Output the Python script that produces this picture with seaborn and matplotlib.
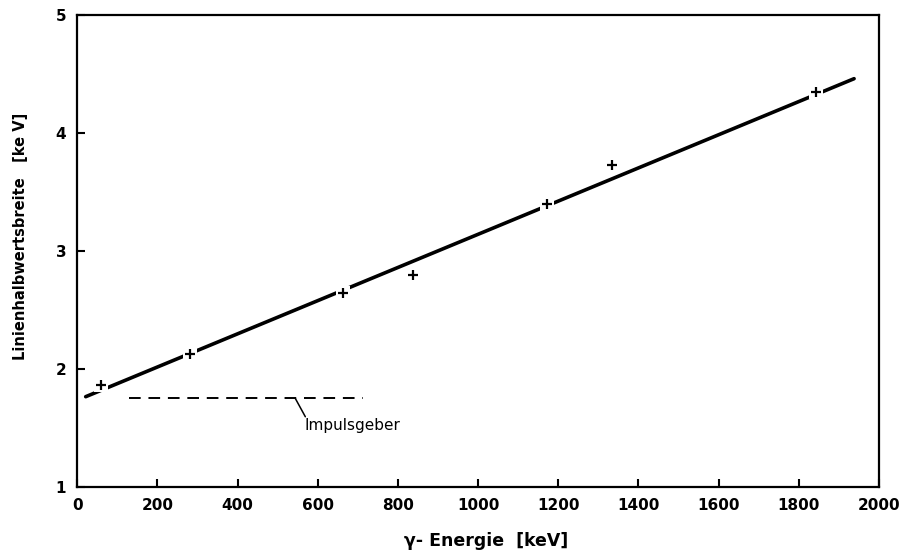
import matplotlib
matplotlib.use("Agg")
import matplotlib.pyplot as plt
import seaborn as sns
import pandas as pd

# measured points
energy_keV = [60, 280, 663, 837, 1172, 1333, 1844]
fwhm_keV = [1.86, 2.13, 2.64, 2.80, 3.40, 3.73, 4.35]

# fitted straight line (end points)
fit_x = [21, 1938]
fit_y = [1.765, 4.46]

# pulser level
pulser_x = [129, 714]
pulser_y = [1.75, 1.75]

# leader line of the "Impulsgeber" label
leader_x = [544, 569]
leader_y = [1.75, 1.595]

x_ticks = [0, 200, 400, 600, 800, 1000, 1200, 1400, 1600, 1800, 2000]
y_ticks = [1, 2, 3, 4, 5]

sns.set_style("ticks", {"axes.labelcolor": "black", "text.color": "black",
                        "xtick.color": "black", "ytick.color": "black",
                        "axes.edgecolor": "black"})
plt.rcParams['font.family'] = ['DejaVu Sans']

fig = plt.figure(figsize=(9.08, 5.54), dpi=100)
ax = fig.add_axes([0.0851, 0.121, 0.8829, 0.852])

pts = pd.DataFrame({"E": energy_keV, "W": fwhm_keV})
fit = pd.DataFrame({"E": fit_x, "W": fit_y})
pul = pd.DataFrame({"E": pulser_x, "W": pulser_y})
lead = pd.DataFrame({"E": leader_x, "W": leader_y})

sns.lineplot(data=fit, x="E", y="W", ax=ax, color="black", linewidth=2.6, zorder=2)
sns.lineplot(data=pul, x="E", y="W", ax=ax, color="black", linewidth=1.4,
             linestyle=(0, (6, 4)), zorder=2)
sns.lineplot(data=lead, x="E", y="W", ax=ax, color="black", linewidth=1.1, zorder=2)
# white patches to create gaps in the line around the points
ax.scatter(pts["E"], pts["W"], marker="s", s=110, color="white", zorder=3, linewidths=0)
sns.scatterplot(data=pts, x="E", y="W", ax=ax, marker="+", s=60, color="black",
                linewidth=1.6, zorder=4)

ax.text(566, 1.525, "Impulsgeber", fontsize=11, color="black", ha="left", va="center")

ax.set_xlim(0, 2000)
ax.set_ylim(1, 5)
ax.set_xticks(x_ticks)
ax.set_yticks(y_ticks)
ax.set_xticklabels([str(t) for t in x_ticks], fontsize=11, fontweight="bold")
ax.set_yticklabels([str(t) for t in y_ticks], fontsize=11, fontweight="bold")
ax.tick_params(direction="in", length=6, width=1.5, pad=8, colors="black")

for s in ax.spines.values():
    s.set_visible(True)
    s.set_linewidth(1.6)
    s.set_color("black")

ax.set_xlabel("γ- Energie  [keV]", fontsize=12.5, fontweight="bold", color="black")
ax.xaxis.set_label_coords(0.51, -0.095)
ax.set_ylabel("Linienhalbwertsbreite   [ke V]", fontsize=10.5, fontweight="bold", color="black")
ax.yaxis.set_label_coords(-0.062, 0.53)

fig.savefig("out.png", dpi=100, facecolor="white")
